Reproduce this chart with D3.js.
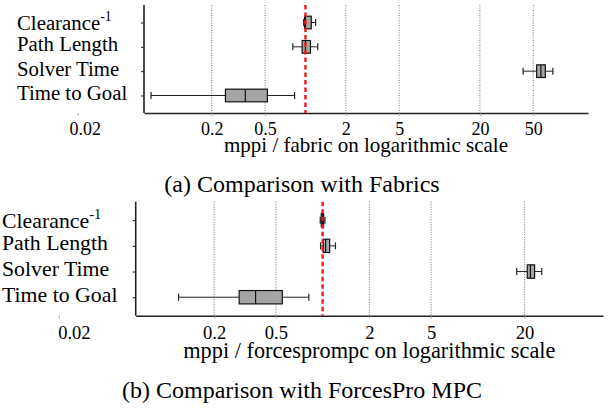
<!DOCTYPE html>
<html>
<head>
<meta charset="utf-8">
<script src="https://cdn.jsdelivr.net/npm/d3@7"></script>
<style>
  body { margin: 0; background: #fff; }
  svg { display: block; }
  text { font-family: "Liberation Serif", "Times New Roman", Times, serif; fill: #000; }
</style>
</head>
<body>
<svg id="chart" width="612" height="410"></svg>
<script>
// metrics, top to bottom
const categories = ['Clearance', 'Path Length', 'Solver Time', 'Time to Goal'];

// ratio mppi / other planner: [whisker low, q1, median, q3, whisker high]
const fabricStats = [
    [0.97, 0.985, 1.0, 1.105, 1.19],
    [0.805, 0.945, 1.0, 1.09, 1.235],
    [42, 53, 57, 61.5, 70],
    [0.0705, 0.253, 0.356, 0.52, 0.83]
];
const forcesStats = [
    [0.965, 0.98, 1.0, 1.015, 1.035],
    [0.97, 1.01, 1.045, 1.11, 1.21],
    [17.8, 20.8, 21.8, 23.2, 25.8],
    [0.118, 0.29, 0.37, 0.55, 0.815]
];

const fabricTicks = [0.02, 0.2, 0.5, 2, 5, 20, 50];
const forcesTicks = [0.02, 0.2, 0.5, 2, 5, 20];
const fabricDomain = [1 / 16, 128];
const forcesDomain = [1 / 16, 64];
const referenceValue = 1;

const serif = '"Liberation Serif", "Times New Roman", Times, serif';
const svg = d3.select('#chart');

function drawPanel (opts) {
    const g = svg.append('g');
    const x = d3.scaleLog().domain(opts.domain).range([opts.left, opts.right]);
    const y = d3.scalePoint().domain(categories).range([opts.top, opts.bottom]).padding(0.72);
    const boxH = y.step() * 0.52;
    const capH = 3.5;

    // dotted grid lines inside the plot
    const [d0, d1] = opts.domain;
    g.append('g').selectAll('line')
        .data(opts.ticks.filter(t => t > d0 && t < d1))
        .join('line')
        .attr('x1', d => x(d)).attr('x2', d => x(d))
        .attr('y1', opts.top).attr('y2', opts.bottom)
        .attr('stroke', '#555')
        .attr('stroke-width', 0.8)
        .attr('stroke-dasharray', '1,1.5');

    // x axis
    const xAxis = d3.axisBottom(x)
        .tickValues(opts.ticks)
        .tickFormat(d => String(d))
        .tickSize(3)
        .tickSizeOuter(0)
        .tickPadding(opts.tickPad);
    const xg = g.append('g')
        .attr('transform', 'translate(0,' + opts.bottom + ')')
        .call(xAxis);
    xg.select('.domain').attr('stroke', '#222').attr('stroke-width', 1.6);
    xg.selectAll('.tick line').attr('stroke', '#999').attr('stroke-width', 0.8);
    xg.selectAll('.tick text')
        .style('font-family', serif)
        .style('font-size', opts.tickFont + 'px')
        .attr('fill', '#000')
        .attr('dx', (d, i) => i === 0 ? opts.firstTickDx : 0);

    // y axis with ticks only; labels are left aligned separately
    const yAxis = d3.axisLeft(y).tickSize(3).tickSizeOuter(0).tickFormat('');
    const yg = g.append('g')
        .attr('transform', 'translate(' + opts.left + ',0)')
        .call(yAxis);
    yg.select('.domain').attr('stroke', '#222').attr('stroke-width', 1.6)
        .attr('d', 'M0,' + opts.top + 'V' + opts.bottom);
    yg.selectAll('.tick line').attr('stroke', '#222').attr('stroke-width', 1);

    const labels = g.append('g').selectAll('text')
        .data(categories)
        .join('text')
        .attr('x', opts.labelX)
        .attr('y', (d, i) => y(d) + (i === 0 ? opts.catFont * 0.35 : opts.catFont * 0.21))
        .style('font-family', serif)
        .style('font-size', opts.catFont + 'px')
        .text(d => d);
    // clearance is inverted
    labels.filter((d, i) => i === 0)
        .append('tspan')
        .attr('dy', -opts.catFont * 0.42)
        .style('font-size', (opts.catFont * 0.66) + 'px')
        .text('-1');

    // box plots
    const rows = g.append('g').selectAll('g')
        .data(opts.stats)
        .join('g')
        .attr('transform', (d, i) => 'translate(0,' + y(categories[i]) + ')');

    rows.append('line')
        .attr('x1', d => x(d[0])).attr('x2', d => x(d[1]))
        .attr('stroke', '#222').attr('stroke-width', 1);
    rows.append('line')
        .attr('x1', d => x(d[3])).attr('x2', d => x(d[4]))
        .attr('stroke', '#222').attr('stroke-width', 1);
    rows.append('line')
        .attr('x1', d => x(d[0])).attr('x2', d => x(d[0]))
        .attr('y1', -capH).attr('y2', capH)
        .attr('stroke', '#222').attr('stroke-width', 1.2);
    rows.append('line')
        .attr('x1', d => x(d[4])).attr('x2', d => x(d[4]))
        .attr('y1', -capH).attr('y2', capH)
        .attr('stroke', '#222').attr('stroke-width', 1.2);
    rows.append('rect')
        .attr('x', d => x(d[1]))
        .attr('width', d => x(d[3]) - x(d[1]))
        .attr('y', -boxH / 2)
        .attr('height', boxH)
        .attr('fill', '#a5a5a5')
        .attr('stroke', '#111')
        .attr('stroke-width', 1.2);
    rows.append('line')
        .attr('x1', d => x(d[2])).attr('x2', d => x(d[2]))
        .attr('y1', -boxH / 2).attr('y2', boxH / 2)
        .attr('stroke', '#111').attr('stroke-width', 1.2);

    // ratio of 1
    g.append('line')
        .attr('x1', x(referenceValue)).attr('x2', x(referenceValue))
        .attr('y1', opts.top).attr('y2', opts.bottom)
        .attr('stroke', '#f01818')
        .attr('stroke-width', 2.4)
        .attr('stroke-dasharray', '4.5,3');

    g.append('text')
        .attr('x', (opts.left + opts.right) / 2)
        .attr('y', opts.axisLabelY)
        .attr('text-anchor', 'middle')
        .style('font-family', serif)
        .style('font-size', opts.axisFont + 'px')
        .text(opts.axisLabel);

    g.append('text')
        .attr('x', 302)
        .attr('y', opts.captionY)
        .attr('text-anchor', 'middle')
        .style('font-family', serif)
        .style('font-size', '24px')
        .text(opts.caption);
}

drawPanel({
    stats: fabricStats, ticks: fabricTicks, domain: fabricDomain,
    left: 144, right: 588, top: 5, bottom: 113,
    labelX: 17, catFont: 20.8, tickFont: 18, tickPad: 6, firstTickDx: 7,
    axisFont: 21, axisLabelY: 152, axisLabel: 'mppi / fabric on logarithmic scale',
    captionY: 192, caption: '(a) Comparison with Fabrics'
});

drawPanel({
    stats: forcesStats, ticks: forcesTicks, domain: forcesDomain,
    left: 135.7, right: 603, top: 201.7, bottom: 315.7,
    labelX: 2, catFont: 21.8, tickFont: 18.5, tickPad: 7, firstTickDx: 15,
    axisFont: 22.3, axisLabelY: 358, axisLabel: 'mppi / forcesprompc on logarithmic scale',
    captionY: 398, caption: '(b) Comparison with ForcesPro MPC'
});
</script>
</body>
</html>
